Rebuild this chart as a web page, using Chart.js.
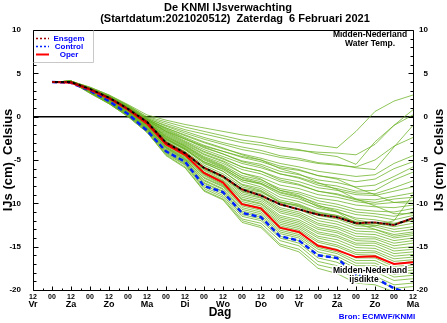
<!DOCTYPE html>
<html>
<head>
<meta charset="utf-8">
<script src="https://cdn.jsdelivr.net/npm/chart.js@4.4.1/dist/chart.umd.min.js"></script>
<style>
  html, body { margin: 0; padding: 0; background: #fff; }
</style>
</head>
<body>
<canvas id="ijs" width="447" height="323"></canvas>
<script>
const FONT = "'Liberation Sans', Arial, Helvetica, sans-serif";

// uren na vrijdag 12 UTC
const uren = [12, 24, 36, 48, 60, 72, 84, 96, 108, 120, 132, 144, 156, 168, 180, 192, 204, 216, 228, 240];
const dagen = ['Vr', 'Za', 'Zo', 'Ma', 'Di', 'Wo', 'Do', 'Vr', 'Za', 'Zo', 'Ma'];

const oper    = [4.0, 3.9, 3.1, 2.1, 0.8, -0.8, -3.2, -4.4, -6.5, -7.6, -10.1, -10.6, -12.8, -13.3, -14.9, -15.4, -16.2, -16.1, -17.0, -16.8];
const control = [4.0, 3.9, 3.0, 1.8, 0.3, -1.6, -4.0, -5.2, -8.0, -8.7, -11.1, -11.6, -13.8, -14.3, -16.0, -16.3, -18.3, -18.6, -19.8, -20.6];
const ensgem  = [4.0, 4.0, 3.2, 2.2, 0.9, -0.6, -3.0, -4.2, -5.9, -6.9, -8.4, -9.1, -10.1, -10.7, -11.3, -11.6, -12.3, -12.2, -12.5, -11.7];

// ensembleleden
const leden = [
  [4.0, 4.1, 3.4, 2.5, 1.4, 0.2, -0.4, -0.9, -1.3, -1.7, -2.1, -2.4, -2.8, -3.0, -3.3, -3.6, -1.7, 0.6, 1.8, 2.5],
  [4.0, 4.1, 3.4, 2.5, 1.3, 0.0, -0.6, -1.2, -1.7, -2.2, -2.7, -3.0, -3.5, -3.8, -4.3, -4.6, -5.5, -2.9, -1.0, 0.8],
  [4.0, 4.0, 3.3, 2.4, 1.3, -0.1, -0.8, -1.5, -2.0, -2.5, -3.0, -3.3, -3.7, -3.9, -4.1, -4.2, -4.4, -3.2, -1.0, 0.2],
  [4.0, 4.1, 3.3, 2.4, 1.2, -0.2, -1.0, -1.7, -2.4, -3.0, -3.5, -3.9, -4.5, -4.8, -5.3, -5.5, -5.9, -6.1, -3.5, -1.0],
  [4.0, 4.0, 3.3, 2.4, 1.2, -0.2, -1.1, -1.9, -2.6, -3.2, -3.8, -4.2, -4.7, -5.0, -5.4, -5.6, -5.8, -5.0, -3.4, -2.4],
  [4.0, 4.0, 3.2, 2.3, 1.1, -0.3, -1.3, -2.2, -3.0, -3.7, -4.3, -4.8, -5.4, -5.8, -6.3, -6.6, -6.9, -6.7, -5.4, -4.5],
  [4.0, 4.1, 3.3, 2.3, 1.1, -0.3, -1.4, -2.4, -3.3, -4.0, -4.7, -5.2, -5.9, -6.2, -6.8, -7.1, -7.5, -7.2, -6.0, -5.2],
  [4.0, 4.0, 3.2, 2.3, 1.0, -0.4, -1.6, -2.6, -3.6, -4.3, -5.1, -5.5, -6.3, -6.7, -7.3, -7.6, -8.1, -7.9, -6.9, -5.8],
  [4.0, 4.0, 3.2, 2.2, 1.0, -0.4, -1.7, -2.8, -3.8, -4.6, -5.4, -5.9, -6.6, -7.0, -7.7, -8.0, -8.6, -8.5, -7.3, -6.4],
  [4.0, 4.1, 3.3, 2.3, 1.1, -0.3, -1.5, -2.5, -3.5, -4.3, -5.2, -5.7, -6.6, -7.1, -7.9, -8.3, -8.8, -8.9, -8.2, -7.4],
  [4.0, 4.0, 3.2, 2.2, 1.0, -0.5, -1.9, -3.0, -4.1, -4.9, -5.8, -6.3, -7.1, -7.5, -8.2, -8.5, -9.0, -9.1, -8.6, -8.1],
  [4.0, 4.0, 3.2, 2.2, 0.9, -0.5, -2.0, -3.1, -4.3, -5.1, -6.1, -6.6, -7.5, -7.9, -8.6, -8.9, -9.5, -9.6, -9.2, -8.8],
  [4.0, 4.1, 3.2, 2.2, 1.0, -0.4, -1.8, -2.9, -4.0, -4.8, -5.8, -6.3, -7.3, -7.8, -8.6, -9.0, -9.6, -9.9, -9.5, -9.3],
  [4.0, 4.0, 3.1, 2.1, 0.9, -0.6, -2.2, -3.3, -4.6, -5.4, -6.5, -7.0, -7.9, -8.3, -9.0, -9.3, -9.8, -10.1, -9.9, -9.7],
  [4.0, 4.0, 3.2, 2.2, 0.9, -0.6, -2.3, -3.4, -4.7, -5.6, -6.8, -7.3, -8.3, -8.7, -9.4, -9.7, -10.2, -10.4, -10.5, -10.2],
  [4.0, 4.0, 3.1, 2.1, 0.8, -0.7, -2.4, -3.5, -4.9, -5.8, -7.0, -7.5, -8.5, -8.9, -9.7, -10.1, -10.7, -10.9, -11.0, -10.6],
  [4.0, 4.1, 3.2, 2.2, 0.9, -0.6, -2.3, -3.4, -4.8, -5.7, -7.1, -7.7, -8.7, -9.2, -10.0, -10.4, -11.0, -11.2, -11.5, -11.0],
  [4.0, 4.0, 3.1, 2.1, 0.8, -0.7, -2.5, -3.6, -5.0, -5.9, -7.3, -7.8, -9.0, -9.5, -10.3, -10.7, -11.3, -11.5, -11.9, -11.4],
  [4.0, 4.0, 3.1, 2.1, 0.8, -0.8, -2.6, -3.7, -5.2, -6.1, -7.5, -8.1, -9.3, -9.8, -10.6, -11.0, -11.7, -11.9, -12.3, -11.8],
  [4.0, 4.0, 3.1, 2.0, 0.7, -0.8, -2.7, -3.8, -5.4, -6.3, -7.8, -8.3, -9.6, -10.1, -11.0, -11.4, -12.1, -12.3, -12.7, -12.3],
  [4.0, 4.1, 3.2, 2.1, 0.8, -0.7, -2.6, -3.8, -5.3, -6.3, -7.9, -8.5, -9.8, -10.3, -11.2, -11.6, -12.4, -12.5, -13.0, -12.7],
  [4.0, 4.0, 3.1, 2.0, 0.7, -0.9, -2.8, -4.0, -5.6, -6.6, -8.1, -8.6, -9.9, -10.4, -11.4, -11.8, -12.6, -12.7, -13.3, -13.0],
  [4.0, 4.0, 3.0, 2.0, 0.7, -0.9, -2.9, -4.1, -5.8, -6.8, -8.4, -8.9, -10.2, -10.7, -11.7, -12.1, -12.9, -13.0, -13.6, -13.3],
  [4.0, 4.0, 3.1, 2.0, 0.6, -1.0, -3.0, -4.2, -5.9, -6.9, -8.6, -9.1, -10.5, -11.0, -12.0, -12.4, -13.2, -13.3, -14.0, -13.7],
  [4.0, 4.1, 3.1, 2.0, 0.7, -0.9, -2.9, -4.1, -5.9, -7.0, -8.7, -9.3, -10.7, -11.2, -12.3, -12.7, -13.5, -13.6, -14.3, -14.0],
  [4.0, 4.0, 3.0, 1.9, 0.6, -1.0, -3.1, -4.3, -6.1, -7.1, -8.9, -9.4, -10.9, -11.4, -12.5, -12.9, -13.8, -13.9, -14.6, -14.3],
  [4.0, 4.0, 3.0, 1.9, 0.5, -1.1, -3.2, -4.4, -6.2, -7.3, -9.1, -9.6, -11.1, -11.6, -12.8, -13.2, -14.1, -14.1, -14.9, -14.6],
  [4.0, 4.0, 3.0, 1.9, 0.5, -1.1, -3.3, -4.5, -6.4, -7.4, -9.3, -9.8, -11.4, -11.9, -13.0, -13.4, -14.3, -14.4, -15.2, -15.0],
  [4.0, 4.1, 3.1, 1.9, 0.6, -1.0, -3.2, -4.5, -6.4, -7.5, -9.5, -10.0, -11.6, -12.1, -13.3, -13.7, -14.6, -14.6, -15.5, -15.3],
  [4.0, 4.0, 3.0, 1.8, 0.5, -1.2, -3.4, -4.6, -6.6, -7.6, -9.6, -10.1, -11.8, -12.3, -13.5, -13.9, -14.8, -14.9, -15.8, -15.6],
  [4.0, 4.0, 2.9, 1.8, 0.4, -1.2, -3.5, -4.7, -6.7, -7.8, -9.8, -10.3, -12.0, -12.5, -13.8, -14.2, -15.1, -15.2, -16.1, -15.9],
  [4.0, 4.0, 3.0, 1.8, 0.4, -1.3, -3.5, -4.8, -6.8, -7.9, -10.0, -10.5, -12.2, -12.7, -14.0, -14.5, -15.4, -15.5, -16.4, -16.2],
  [4.0, 4.0, 2.9, 1.8, 0.4, -1.3, -3.6, -4.9, -7.0, -8.0, -10.1, -10.6, -12.4, -12.9, -14.3, -14.8, -15.7, -15.7, -16.7, -16.5],
  [4.0, 4.1, 3.0, 1.8, 0.4, -1.3, -3.6, -4.9, -7.1, -8.1, -10.3, -10.8, -12.6, -13.1, -14.5, -15.0, -15.9, -16.0, -17.0, -16.7],
  [4.0, 4.0, 2.9, 1.7, 0.3, -1.4, -3.7, -5.0, -7.3, -8.3, -10.5, -11.0, -12.9, -13.4, -14.8, -15.3, -16.3, -16.3, -17.3, -17.1],
  [4.0, 4.0, 2.9, 1.7, 0.3, -1.4, -3.8, -5.1, -7.4, -8.4, -10.7, -11.2, -13.1, -13.6, -15.1, -15.6, -16.6, -16.6, -17.6, -17.4],
  [4.0, 4.0, 2.9, 1.7, 0.3, -1.5, -3.9, -5.2, -7.6, -8.6, -10.9, -11.4, -13.3, -13.8, -15.3, -15.8, -16.9, -16.9, -17.9, -17.7],
  [4.0, 4.0, 2.8, 1.6, 0.2, -1.5, -4.0, -5.3, -7.7, -8.7, -11.1, -11.6, -13.5, -14.0, -15.6, -16.1, -17.2, -17.2, -18.2, -18.0],
  [4.0, 4.0, 2.8, 1.6, 0.2, -1.6, -4.1, -5.4, -7.9, -8.9, -11.3, -11.8, -13.8, -14.3, -15.9, -16.4, -17.5, -17.5, -18.5, -18.3],
  [4.0, 4.0, 2.8, 1.6, 0.1, -1.6, -4.2, -5.5, -8.1, -9.1, -11.5, -12.0, -14.0, -14.6, -16.3, -16.8, -17.9, -17.9, -18.9, -18.7],
  [4.0, 4.0, 2.8, 1.5, 0.1, -1.7, -4.3, -5.6, -8.3, -9.3, -11.8, -12.3, -14.3, -14.9, -16.7, -17.2, -18.3, -18.4, -19.4, -19.2],
  [4.0, 4.0, 2.7, 1.5, 0.0, -1.8, -4.4, -5.8, -8.5, -9.5, -12.0, -12.6, -14.7, -15.3, -17.1, -17.6, -18.7, -18.8, -19.8, -19.6],
  [4.0, 4.0, 2.7, 1.5, 0.0, -1.8, -4.5, -5.9, -8.6, -9.6, -12.2, -12.8, -14.9, -15.6, -17.5, -18.1, -19.2, -19.4, -20.2, -20.3],
  [4.0, 4.0, 3.2, 2.2, 1.0, -0.4, -1.7, -2.6, -3.4, -4.0, -4.6, -5.0, -5.7, -6.1, -6.8, -7.2, -8.2, -9.0, -9.9, -10.0],
  [4.0, 4.1, 3.3, 2.3, 1.1, -0.3, -1.3, -2.1, -2.9, -3.6, -4.4, -5.0, -6.0, -6.6, -7.6, -8.4, -9.5, -10.3, -11.2, -11.2],
  [4.0, 4.0, 3.2, 2.2, 0.9, -0.6, -2.1, -3.2, -4.4, -5.2, -6.5, -7.2, -8.5, -9.1, -10.2, -10.9, -11.9, -12.3, -12.4, -12.0],
  [4.0, 4.0, 3.1, 2.1, 0.8, -0.8, -2.5, -3.7, -5.2, -6.0, -7.3, -7.7, -8.8, -9.3, -10.4, -11.0, -12.3, -13.0, -13.8, -13.5],
  [4.0, 4.0, 3.0, 1.9, 0.6, -1.0, -3.0, -4.3, -6.0, -6.9, -8.3, -8.7, -9.9, -10.2, -11.1, -11.4, -12.2, -12.6, -12.0, -9.0]
];

const punten = reeks => reeks.map((v, i) => ({ x: uren[i], y: v }));

const hoofdLijnen = [
  { label: 'Ensgem', data: punten(ensgem), borderColor: '#a00000', borderWidth: 2,
    borderDash: [3, 3], legenda: true },
  { label: 'Ensgem-zwart', data: punten(ensgem), borderColor: '#000000', borderWidth: 2,
    borderDash: [3, 3], borderDashOffset: 3 },
  { label: 'Oper', data: punten(oper), borderColor: '#ff0000', borderWidth: 2, legenda: true },
  { label: 'Control', data: punten(control), borderColor: '#0022ff', borderWidth: 2.5,
    borderDash: [5, 3], legenda: true }
];

const ledenLijnen = leden.map((rij, n) => ({
  label: 'Lid ' + (n + 1),
  data: punten(rij),
  borderColor: 'rgba(105,178,35,0.75)',
  borderWidth: 1
}));

// kader, streepjes, teksten en legenda
const opmaak = {
  id: 'opmaak',
  afterDatasetsDraw(chart) {
    const { ctx, chartArea: a, scales } = chart;
    const L = Math.round(a.left) + 0.5, R = Math.round(a.right) + 0.5;
    const T = Math.round(a.top) + 0.5, B = Math.round(a.bottom) + 0.5;
    ctx.save();
    ctx.strokeStyle = '#000';
    ctx.lineWidth = 1;
    ctx.beginPath();
    ctx.rect(L, T, R - L, B - T);
    // streepjes naar binnen
    scales.x.ticks.forEach(t => {
      const px = Math.round(scales.x.getPixelForValue(t.value)) + 0.5;
      const len = t.value % 12 === 0 ? 4 : 2;
      ctx.moveTo(px, B); ctx.lineTo(px, B - len);
    });
    scales.y.ticks.forEach(t => {
      const py = Math.round(scales.y.getPixelForValue(t.value)) + 0.5;
      const len = t.value % 5 === 0 ? 5 : 3;
      ctx.moveTo(L, py); ctx.lineTo(L + len, py);
      ctx.moveTo(R, py); ctx.lineTo(R - len, py);
    });
    ctx.stroke();

    // legenda linksboven
    ctx.fillStyle = '#fff';
    ctx.fillRect(L + 0.5, T + 0.5, 93 - L, 62 - T);
    ctx.strokeStyle = '#c8c8c8';
    ctx.beginPath();
    ctx.moveTo(93.5, T); ctx.lineTo(93.5, 62.5); ctx.lineTo(L, 62.5);
    ctx.stroke();
    const items = chart.data.datasets.filter(d => d.legenda);
    const volgorde = ['Ensgem', 'Control', 'Oper'];
    ctx.font = `bold 8px ${FONT}`;
    ctx.textAlign = 'center';
    ctx.textBaseline = 'middle';
    volgorde.forEach((naam, k) => {
      const d = items.find(i => i.label === naam);
      const y = 38 + k * 8 + 0.5;
      ctx.strokeStyle = d.borderColor;
      ctx.lineWidth = naam === 'Oper' ? 2 : 1.5;
      ctx.setLineDash(naam === 'Oper' ? [] : [2, 2]);
      ctx.beginPath();
      ctx.moveTo(36, y); ctx.lineTo(49, y);
      ctx.stroke();
      ctx.setLineDash([]);
      ctx.fillStyle = '#0000ff';
      ctx.fillText(naam, 69, y);
    });

    // plaatsaanduidingen
    ctx.fillStyle = '#000';
    ctx.font = `bold 8.5px ${FONT}`;
    ctx.fillText('Midden-Nederland', 370, 35);
    ctx.fillText('Water Temp.', 370, 44);
    ctx.strokeStyle = '#fff';
    ctx.lineWidth = 3;
    ctx.lineJoin = 'round';
    ctx.strokeText('Midden-Nederland', 370, 271);
    ctx.strokeText('ijsdikte', 364, 280);
    ctx.fillText('Midden-Nederland', 370, 271);
    ctx.fillText('ijsdikte', 364, 280);
    ctx.restore();
  },
  afterDraw(chart) {
    const { ctx, chartArea: a, scales } = chart;
    const midY = (a.top + a.bottom) / 2;
    ctx.save();
    ctx.fillStyle = '#000';
    ctx.textAlign = 'center';
    ctx.textBaseline = 'middle';
    ctx.font = `bold 11px ${FONT}`;
    ctx.fillText('De KNMI IJsverwachting', 228, 8);
    ctx.fillText('(Startdatum:2021020512)  Zaterdag  6 Februari 2021', 235, 19);

    // dagnamen onder de 12 UTC streepjes
    ctx.font = `bold 9px ${FONT}`;
    dagen.forEach((d, k) => {
      ctx.fillText(d, scales.x.getPixelForValue(k * 24), a.bottom + 15);
    });
    ctx.font = `bold 12px ${FONT}`;
    ctx.fillText('Dag', (a.left + a.right) / 2 - 3, a.bottom + 23);

    ctx.font = `bold 13px ${FONT}`;
    [8, 439].forEach(x => {
      ctx.save();
      ctx.translate(x, midY);
      ctx.rotate(-Math.PI / 2);
      ctx.fillText('IJs (cm)  Celsius', 0, 0);
      ctx.restore();
    });

    ctx.fillStyle = '#0000ff';
    ctx.font = `bold 8px ${FONT}`;
    ctx.fillText('Bron: ECMWF/KNMI', 377, 317);
    ctx.restore();
  }
};

const yTicks = {
  stepSize: 1,
  autoSkip: false,
  color: '#000',
  font: { family: FONT, size: 8, weight: 'bold' },
  callback: v => (v % 5 === 0 ? v : '')
};

new Chart(document.getElementById('ijs'), {
  type: 'line',
  data: { datasets: [...hoofdLijnen, ...ledenLijnen] },
  options: {
    responsive: false,
    animation: false,
    layout: { padding: { top: 30, right: 20, left: 0, bottom: 0 } },
    elements: { point: { radius: 0 }, line: { tension: 0 } },
    plugins: { legend: { display: false }, tooltip: { enabled: false } },
    scales: {
      x: {
        type: 'linear', min: 0, max: 240, position: 'bottom',
        afterFit: s => { s.height = 33; },
        grid: { display: false, drawTicks: false }, border: { display: false },
        ticks: {
          stepSize: 6, autoSkip: false, maxRotation: 0, padding: 3, color: '#000',
          font: { family: FONT, size: 7, weight: 'bold' },
          callback: v => (v % 24 === 0 ? '12' : v % 24 === 12 ? '00' : '')
        }
      },
      y: {
        type: 'linear', min: -20, max: 10, position: 'left',
        afterFit: s => { s.width = 33; },
        border: { display: false },
        grid: {
          drawTicks: false,
          color: c => (c.tick && c.tick.value === 0 ? '#000' : 'rgba(0,0,0,0)'),
          lineWidth: 1.5
        },
        ticks: { ...yTicks, padding: 12 }
      },
      y2: {
        type: 'linear', min: -20, max: 10, position: 'right',
        afterFit: s => { s.width = 14; },
        border: { display: false },
        grid: { display: false, drawTicks: false },
        // gespiegeld: rechts uitgelijnd, 15 px rechts van de as
        ticks: { ...yTicks, mirror: true, padding: 15 }
      }
    }
  },
  plugins: [opmaak]
});
</script>
</body>
</html>
